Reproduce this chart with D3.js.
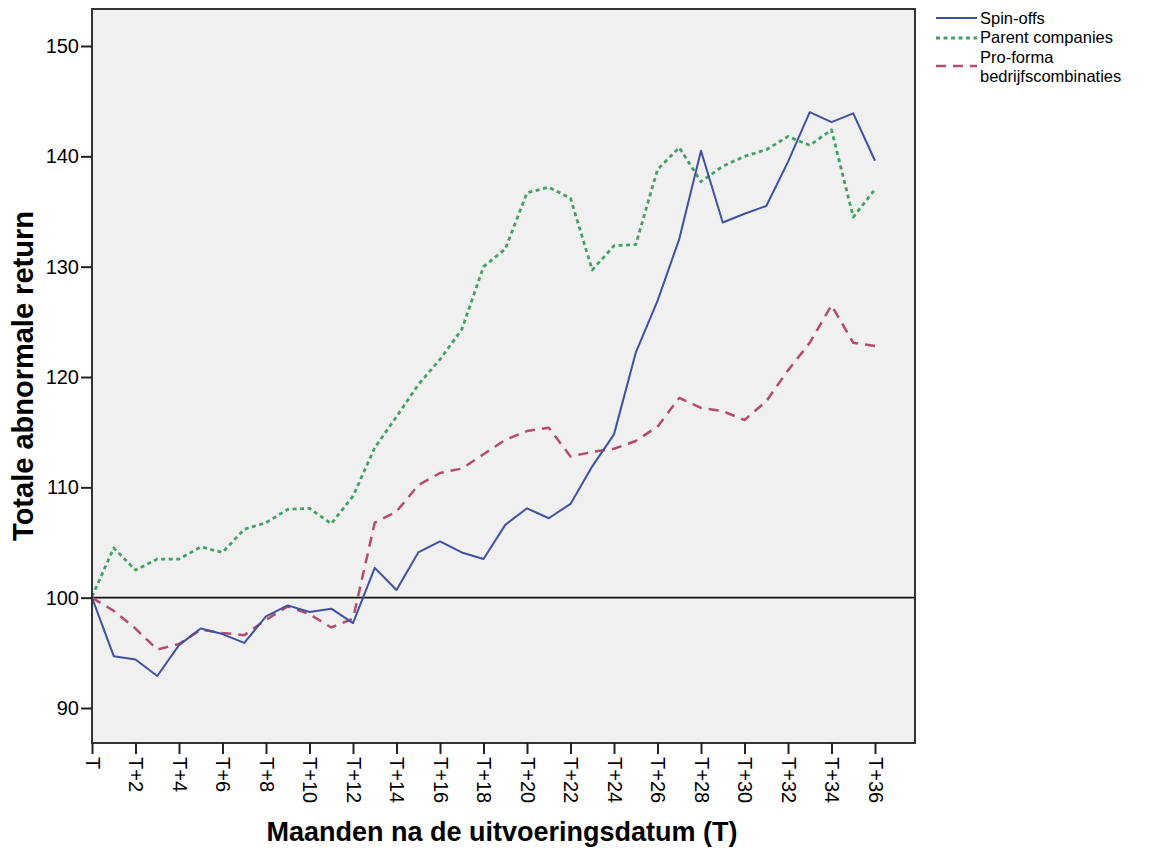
<!DOCTYPE html>
<html>
<head>
<meta charset="utf-8">
<script src="https://cdn.jsdelivr.net/npm/d3@7"></script>
<style>
  html, body { margin: 0; padding: 0; background: #ffffff; }
  svg { display: block; }
  text { font-family: "Liberation Sans", Arial, sans-serif; fill: #000; }
</style>
</head>
<body>
<svg id="chart" width="1159" height="857"></svg>
<script>
// ---- data ----
const months = d3.range(0, 37).map(i => i === 0 ? "T" : "T+" + i);
const tickMonths = d3.range(0, 37, 2);
const yTicks = [90, 100, 110, 120, 130, 140, 150];

const spinOffs = [100, 94.7, 94.4, 92.9, 95.7, 97.2, 96.7, 95.9, 98.3, 99.3, 98.7, 99.0, 97.7,
  102.7, 100.7, 104.1, 105.1, 104.1, 103.5, 106.6, 108.1, 107.2, 108.5, 111.9, 114.8,
  122.2, 126.9, 132.5, 140.5, 134.0, 134.8, 135.5, 139.5, 144.0, 143.1, 143.9, 139.6];
const parentCompanies = [100.1, 104.5, 102.5, 103.5, 103.5, 104.6, 104.1, 106.2, 106.8, 108.0, 108.1, 106.7, 109.2,
  113.6, 116.4, 119.3, 121.6, 124.3, 130.0, 131.6, 136.7, 137.2, 136.2, 129.7, 131.9,
  132.0, 138.8, 140.8, 137.7, 139.1, 140.0, 140.6, 141.8, 141.0, 142.4, 134.5, 137.0];
const proForma = [100, 98.8, 97.2, 95.3, 95.8, 97.1, 96.8, 96.6, 98.0, 99.2, 98.5, 97.3, 98.1,
  106.8, 107.8, 110.2, 111.3, 111.7, 113.0, 114.3, 115.1, 115.4, 112.8, 113.2, 113.5,
  114.2, 115.5, 118.1, 117.2, 116.9, 116.1, 117.8, 120.6, 123.1, 126.5, 123.1, 122.8];
const seriesNames = ["Spin-offs", "Parent companies", "Pro-forma bedrijfscombinaties"];
const referenceValue = 100;

// ---- layout ----
const svg = d3.select("#chart");
const plot = { left: 92, top: 9, right: 915, bottom: 743 };
const x = d3.scaleLinear().domain([0, 36]).range([plot.left, 875]);
const y = d3.scaleLinear().domain([90, 150]).range([708, 46]);

// plot background
svg.append("rect")
  .attr("x", plot.left).attr("y", plot.top)
  .attr("width", plot.right - plot.left).attr("height", plot.bottom - plot.top)
  .attr("fill", "#f0f0f0");

// series
const styles = [
  { data: spinOffs, color: "#3f519f", width: 2, dash: null },
  { data: parentCompanies, color: "#45a065", width: 2.8, dash: "4,3.5" },
  { data: proForma, color: "#b34d6c", width: 2.5, dash: "10,7" }
];
const line = d3.line().x((d, i) => x(i)).y(d => y(d));

// reference line at 100
svg.append("line")
  .attr("x1", plot.left).attr("x2", plot.right)
  .attr("y1", y(referenceValue)).attr("y2", y(referenceValue))
  .attr("stroke", "#111").attr("stroke-width", 1.6);

// draw order: pro-forma, parent, spin-offs on top
[2, 1, 0].forEach(k => {
  const s = styles[k];
  svg.append("path")
    .datum(s.data)
    .attr("d", line)
    .attr("fill", "none")
    .attr("stroke", s.color)
    .attr("stroke-width", s.width)
    .attr("stroke-linejoin", "round")
    .attr("stroke-dasharray", s.dash);
});

// frame
svg.append("rect")
  .attr("x", plot.left).attr("y", plot.top)
  .attr("width", plot.right - plot.left).attr("height", plot.bottom - plot.top)
  .attr("fill", "none").attr("stroke", "#333").attr("stroke-width", 2);

// y axis
const yAxis = d3.axisLeft(y).tickValues(yTicks).tickSize(11).tickPadding(2).tickFormat(d3.format("d"));
const gy = svg.append("g").attr("transform", `translate(${plot.left},0)`).call(yAxis);
gy.select(".domain").remove();
gy.selectAll(".tick line").attr("stroke", "#222").attr("stroke-width", 2);
gy.selectAll(".tick text").attr("font-size", 20).attr("fill", "#222")
  .attr("font-family", "'Liberation Sans', Arial, sans-serif");

// x axis
const xAxis = d3.axisBottom(x).tickValues(tickMonths).tickSize(11).tickFormat(i => months[i]);
const gx = svg.append("g").attr("transform", `translate(0,${plot.bottom})`).call(xAxis);
gx.select(".domain").remove();
gx.selectAll(".tick line").attr("stroke", "#222").attr("stroke-width", 2);
gx.selectAll(".tick text")
  .attr("font-size", 20).attr("fill", "#222")
  .attr("font-family", "'Liberation Sans', Arial, sans-serif")
  .attr("text-anchor", "start")
  .attr("dy", null)
  .attr("y", 0)
  .attr("transform", "translate(-7,14) rotate(90)");

// axis titles
svg.append("text")
  .attr("x", 502).attr("y", 841)
  .attr("text-anchor", "middle")
  .attr("font-weight", "bold").attr("font-size", 27)
  .text("Maanden na de uitvoeringsdatum (T)");

svg.append("text")
  .attr("transform", "translate(33,376) rotate(-90)")
  .attr("text-anchor", "middle")
  .attr("font-weight", "bold").attr("font-size", 29)
  .text("Totale abnormale return");

// legend
const lg = svg.append("g");
const lx1 = 936, lx2 = 977, tx = 980;
const rows = [
  { k: 0, lineY: 18, lines: ["Spin-offs"], textY: [23.5] },
  { k: 1, lineY: 38, lines: ["Parent companies"], textY: [43] },
  { k: 2, lineY: 66, lines: ["Pro-forma", "bedrijfscombinaties"], textY: [62.5, 82] }
];
rows.forEach(r => {
  const s = styles[r.k];
  lg.append("line")
    .attr("x1", lx1).attr("x2", lx2).attr("y1", r.lineY).attr("y2", r.lineY)
    .attr("stroke", s.color).attr("stroke-width", s.width)
    .attr("stroke-dasharray", s.dash);
  r.lines.forEach((t, j) => {
    lg.append("text").attr("x", tx).attr("y", r.textY[j])
      .attr("font-family", "'DejaVu Sans', Verdana, sans-serif")
      .attr("font-size", 16.5).attr("fill", "#222").text(t);
  });
});
</script>
</body>
</html>
